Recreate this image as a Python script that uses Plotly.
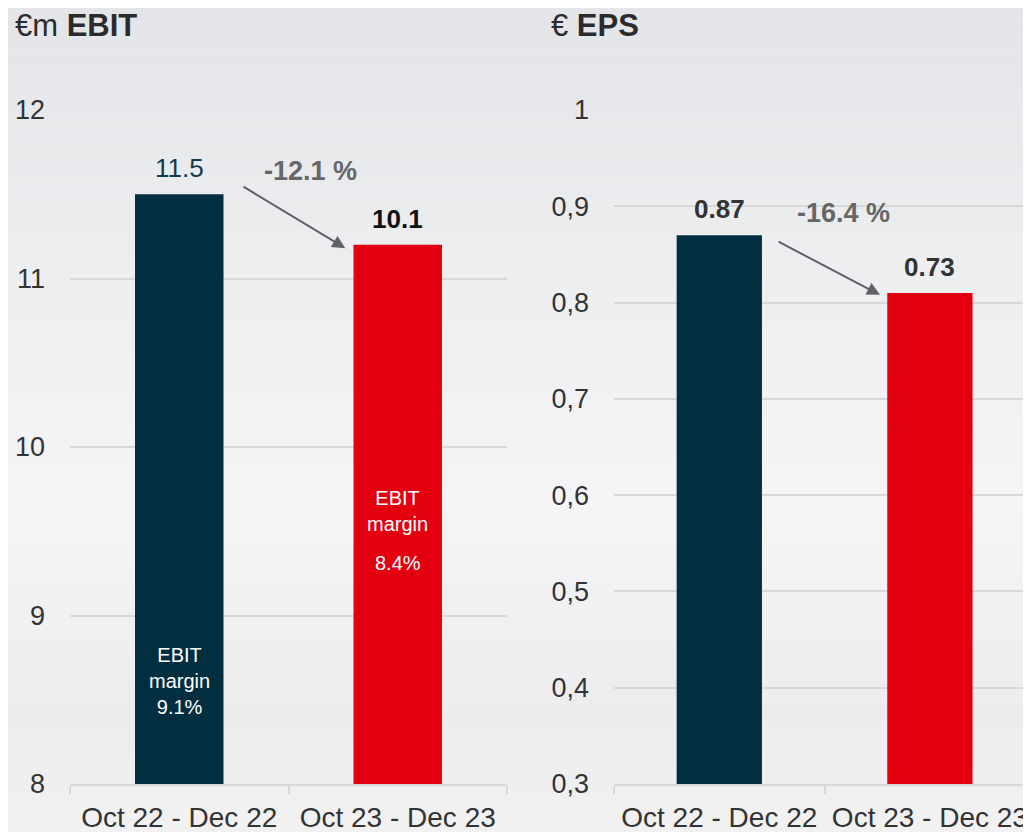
import plotly.graph_objects as go

# data
periods = ["Oct 22 - Dec 22", "Oct 23 - Dec 23"]
ebit_bars = [11.5, 11.2]
ebit_labels = ["11.5", "10.1"]
ebit_margin = ["9.1%", "8.4%"]
ebit_change = "-12.1 %"
eps_bars = [0.87, 0.81]
eps_labels = ["0.87", "0.73"]
eps_change = "-16.4 %"
ebit_ticks = [8, 9, 10, 11, 12]
eps_ticks = [0.3, 0.4, 0.5, 0.6, 0.7, 0.8, 0.9, 1.0]
eps_ticktext = ["0,3", "0,4", "0,5", "0,6", "0,7", "0,8", "0,9", "1"]

NAVY = "#012f40"
RED = "#e3000f"
FONT = "Liberation Sans, Arial, sans-serif"
GRID = "#d8d8da"

# the page body has an 8px margin, so the figure is sized to end at the window edge
OFF = 8
W, H = 1031 - OFF, 832 - OFF

def px(x):
    return (x - OFF) / W

def py(y):
    return 1 - (y - OFF) / H

fig = go.Figure()
fig.add_trace(go.Bar(x=periods, y=ebit_bars, marker_color=[NAVY, RED],
                     marker_line_width=0, xaxis="x", yaxis="y", hoverinfo="skip"))
fig.add_trace(go.Bar(x=periods, y=eps_bars, marker_color=[NAVY, RED],
                     marker_line_width=0, xaxis="x2", yaxis="y2", hoverinfo="skip"))

# soft grey background gradient
stops = [(0.0, (228, 229, 232)), (0.35, (238, 239, 241)), (0.6, (245, 245, 247)),
         (0.85, (236, 236, 238)), (1.0, (242, 242, 243))]
shapes = []
n = 60
for i in range(n):
    t = i / n
    for (a, ca), (b, cb) in zip(stops, stops[1:]):
        if a <= t <= b:
            f = (t - a) / (b - a)
            c = tuple(round(ca[k] + (cb[k] - ca[k]) * f) for k in range(3))
            break
    shapes.append(dict(type="rect", xref="paper", yref="paper", x0=0, x1=1,
                       y0=1 - (i + 1) / n, y1=1 - i / n, layer="below",
                       line_width=0, fillcolor="rgb(%d,%d,%d)" % c))

ann = []
def label(text, x, y, xref, yref, size, color, bold=False, yshift=0):
    ann.append(dict(text=("<b>%s</b>" % text) if bold else text, x=x, y=y,
                    xref=xref, yref=yref, showarrow=False, yshift=yshift,
                    font=dict(family=FONT, size=size, color=color)))

# titles
ann.append(dict(text="€m <b>EBIT</b>", x=px(13), y=py(25), xref="paper",
                yref="paper", xanchor="left", yanchor="middle", showarrow=False,
                font=dict(family=FONT, size=31, color="#2b2b2b")))
ann.append(dict(text="€ <b>EPS</b>", x=px(549), y=py(25), xref="paper",
                yref="paper", xanchor="left", yanchor="middle", showarrow=False,
                font=dict(family=FONT, size=31, color="#2b2b2b")))

# value labels
label(ebit_labels[0], periods[0], ebit_bars[0], "x", "y", 26, "#123c4c", yshift=26)
label(ebit_labels[1], periods[1], ebit_bars[1], "x", "y", 26, "#111111", True, yshift=26)
label(eps_labels[0], periods[0], eps_bars[0], "x2", "y2", 26, "#333333", True, yshift=26)
label(eps_labels[1], periods[1], eps_bars[1], "x2", "y2", 26, "#333333", True, yshift=26)

# margin notes inside bars
label("EBIT<br>margin<br>" + ebit_margin[0], periods[0], 8.61, "x", "y", 20, "white")
label("EBIT<br>margin", periods[1], 9.62, "x", "y", 20, "white")
label(ebit_margin[1], periods[1], 9.31, "x", "y", 20, "white")

# change arrows
ann.append(dict(x=0.76, y=11.18, ax=0.287, ay=11.55, xref="x", yref="y",
                axref="x", ayref="y", showarrow=True, arrowhead=2, arrowsize=1.3,
                arrowwidth=2, arrowcolor="#606068", text=""))
label(ebit_change, 0.6, 11.64, "x", "y", 27, "#666666", True)
ann.append(dict(x=0.763, y=0.808, ax=0.274, ay=0.864, xref="x2", yref="y2",
                axref="x2", ayref="y2", showarrow=True, arrowhead=2, arrowsize=1.3,
                arrowwidth=2, arrowcolor="#606068", text=""))
label(eps_change, 0.59, 0.893, "x2", "y2", 27, "#666666", True)

ydom = [py(784), py(110)]
xcommon = dict(type="category", showgrid=False, showline=True, linecolor=GRID,
               linewidth=2, ticks="outside", tickson="boundaries", ticklen=8,
               tickcolor=GRID, tickwidth=2, ticklabelstandoff=7, automargin=False,
               tickfont=dict(family=FONT, size=28, color="#333333"))
ycommon = dict(showgrid=True, gridcolor=GRID, gridwidth=2, zeroline=False,
               showline=False, ticks="", ticklabelstandoff=24, automargin=False,
               tickfont=dict(family=FONT, size=27, color="#333333"))

fig.update_layout(
    width=W, height=H, margin=dict(l=0, r=0, t=0, b=0, autoexpand=False),
    paper_bgcolor="#eeeff1", plot_bgcolor="rgba(0,0,0,0)",
    showlegend=False, bargap=0.595, shapes=shapes, annotations=ann,
    xaxis=dict(domain=[px(70), px(507)], range=[-0.5, 1.5], **xcommon),
    xaxis2=dict(domain=[px(614), 1.0], range=[-0.5, 1.48], anchor="y2", **xcommon),
    yaxis=dict(domain=ydom, range=[8, 12], tickvals=ebit_ticks, **ycommon),
    yaxis2=dict(domain=ydom, range=[0.3, 1.0], tickvals=eps_ticks,
                ticktext=eps_ticktext, anchor="x2", **ycommon),
)

fig.write_html("out.html")
